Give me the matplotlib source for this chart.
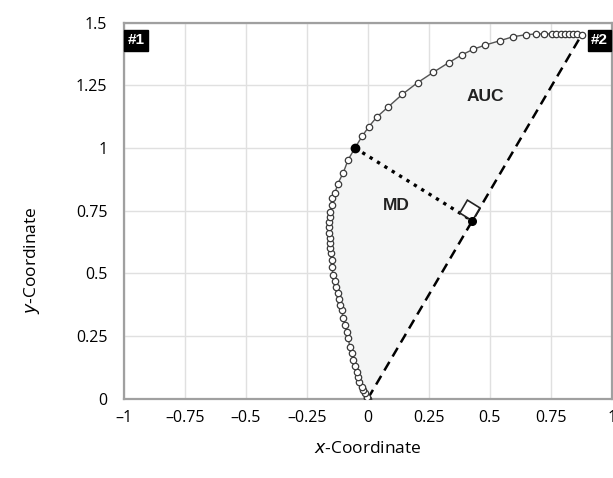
import numpy as np
import matplotlib.pyplot as plt
from matplotlib.patches import Polygon

############################################################################################################
# trajectory points (start -> end)
x_traj = [0.0, -0.002, -0.005, -0.012, -0.020, -0.026, -0.037, -0.042, -0.046, -0.053, -0.060,
          -0.067, -0.074, -0.081, -0.087, -0.094, -0.101, -0.108, -0.115, -0.119, -0.124,
          -0.131, -0.135, -0.142, -0.149, -0.149, -0.153, -0.156, -0.156, -0.156, -0.159,
          -0.159, -0.159, -0.156, -0.156, -0.149, -0.146, -0.135, -0.124, -0.101, -0.081,
          -0.053, -0.023, 0.004, 0.036, 0.081, 0.141, 0.204, 0.268, 0.332, 0.384,
          0.432, 0.482, 0.541, 0.595, 0.648, 0.689, 0.723, 0.753, 0.773, 0.791,
          0.807, 0.824, 0.841, 0.859, 0.876]
y_traj = [0.0, 0.002, 0.006, 0.022, 0.034, 0.046, 0.066, 0.086, 0.106, 0.130, 0.154,
          0.182, 0.206, 0.242, 0.265, 0.293, 0.321, 0.353, 0.373, 0.397, 0.421,
          0.445, 0.469, 0.493, 0.525, 0.553, 0.581, 0.601, 0.621, 0.641, 0.661,
          0.685, 0.705, 0.725, 0.745, 0.772, 0.800, 0.820, 0.856, 0.901, 0.953,
          1.000, 1.048, 1.085, 1.123, 1.162, 1.214, 1.261, 1.302, 1.341, 1.371,
          1.394, 1.411, 1.428, 1.444, 1.452, 1.455, 1.455, 1.455, 1.455, 1.455,
          1.455, 1.455, 1.455, 1.454, 1.451]
i_md = 41  # point of maximum deviation

x_ticks = [-1, -0.75, -0.5, -0.25, 0, 0.25, 0.5, 0.75, 1]
x_labels = ['\u20131', '\u20130.75', '\u20130.5', '\u20130.25', '0', '0.25', '0.5', '0.75', '1']
y_ticks = [0, 0.25, 0.5, 0.75, 1, 1.25, 1.5]
y_labels = ['0', '0.25', '0.5', '0.75', '1', '1.25', '1.5']
###########################################################################################################

plt.rcParams['font.family'] = ['Open Sans', 'DejaVu Sans']

fig = plt.figure(figsize=(6.13, 4.78), dpi=100)
ax = fig.add_axes([0.2023, 0.1663, 0.7957, 0.7862])

xt = np.array(x_traj); yt = np.array(y_traj)

#area under curve
ax.fill(xt, yt, color='#f4f5f5', zorder=1)

#straight line start -> end
ax.plot([xt[0], xt[-1]], [yt[0], yt[-1]], color='black', ls=(0, (4, 2.5)), lw=1.8, zorder=3)

#perpendicular foot of MD point on straight line
d = np.array([xt[-1] - xt[0], yt[-1] - yt[0]])
u = d/np.linalg.norm(d)
p = np.array([xt[i_md], yt[i_md]])
foot = np.dot(p, u)*u
ax.plot([p[0], foot[0]], [p[1], foot[1]], color='black', ls=(0, (1, 1.6)), lw=2.4, zorder=3)

#right angle marker
s = 0.06
n = (p - foot)/np.linalg.norm(p - foot)
sq = np.array([foot, foot + s*u, foot + s*u + s*n, foot + s*n])
ax.add_patch(Polygon(sq, closed=True, facecolor='white', edgecolor='#222222', lw=1.2, zorder=4))

#trajectory
ax.plot(xt, yt, color='#555555', lw=1, marker='o', ms=4.6, mfc='white', mec='#3a3a3a',
        mew=0.9, zorder=5)
ax.plot(p[0], p[1], 'o', color='black', ms=6, zorder=6)
ax.plot(foot[0], foot[1], 'o', color='black', ms=5.5, zorder=6)

ax.text(0.48, 1.204, 'AUC', fontsize=12.5, fontweight='bold', family='Liberation Sans',
        ha='center', va='center', color='#222222', zorder=7)
ax.text(0.115, 0.77, 'MD', fontsize=12.5, fontweight='bold', family='Liberation Sans',
        ha='center', va='center', color='#222222', zorder=7)

box = dict(boxstyle='square,pad=0.22', fc='black', ec='black')
ax.text(0.0075, 0.972, '#1', transform=ax.transAxes, color='white', fontsize=11,
        fontweight='bold', family='Liberation Sans', ha='left', va='top', bbox=box, zorder=8)
ax.text(0.9925, 0.972, '#2', transform=ax.transAxes, color='white', fontsize=11,
        fontweight='bold', family='Liberation Sans', ha='right', va='top', bbox=box, zorder=8,
        clip_on=False)

ax.set_xlim(-1, 1)
ax.set_ylim(0, 1.5)
ax.set_xticks(x_ticks)
ax.set_xticklabels(x_labels)
ax.set_yticks(y_ticks)
ax.set_yticklabels(y_labels)
ax.tick_params(length=0, labelsize=11.5, colors='black')
ax.tick_params(axis='x', pad=8)
ax.tick_params(axis='y', pad=12)
ax.grid(True, color='#e0e0e0', lw=1)
ax.set_axisbelow(True)
for sp in ax.spines.values():
    sp.set_color('#a0a0a0'); sp.set_linewidth(1.6)

fig.text(0.6, 0.06, r'$\it{x}$' + '-Coordinate', ha='center', va='center', fontsize=12.5)
fig.text(0.052, 0.456, r'$\it{y}$' + '-Coordinate', ha='center', va='center', fontsize=12.5,
         rotation=90)

fig.savefig('out.png', dpi=100)
